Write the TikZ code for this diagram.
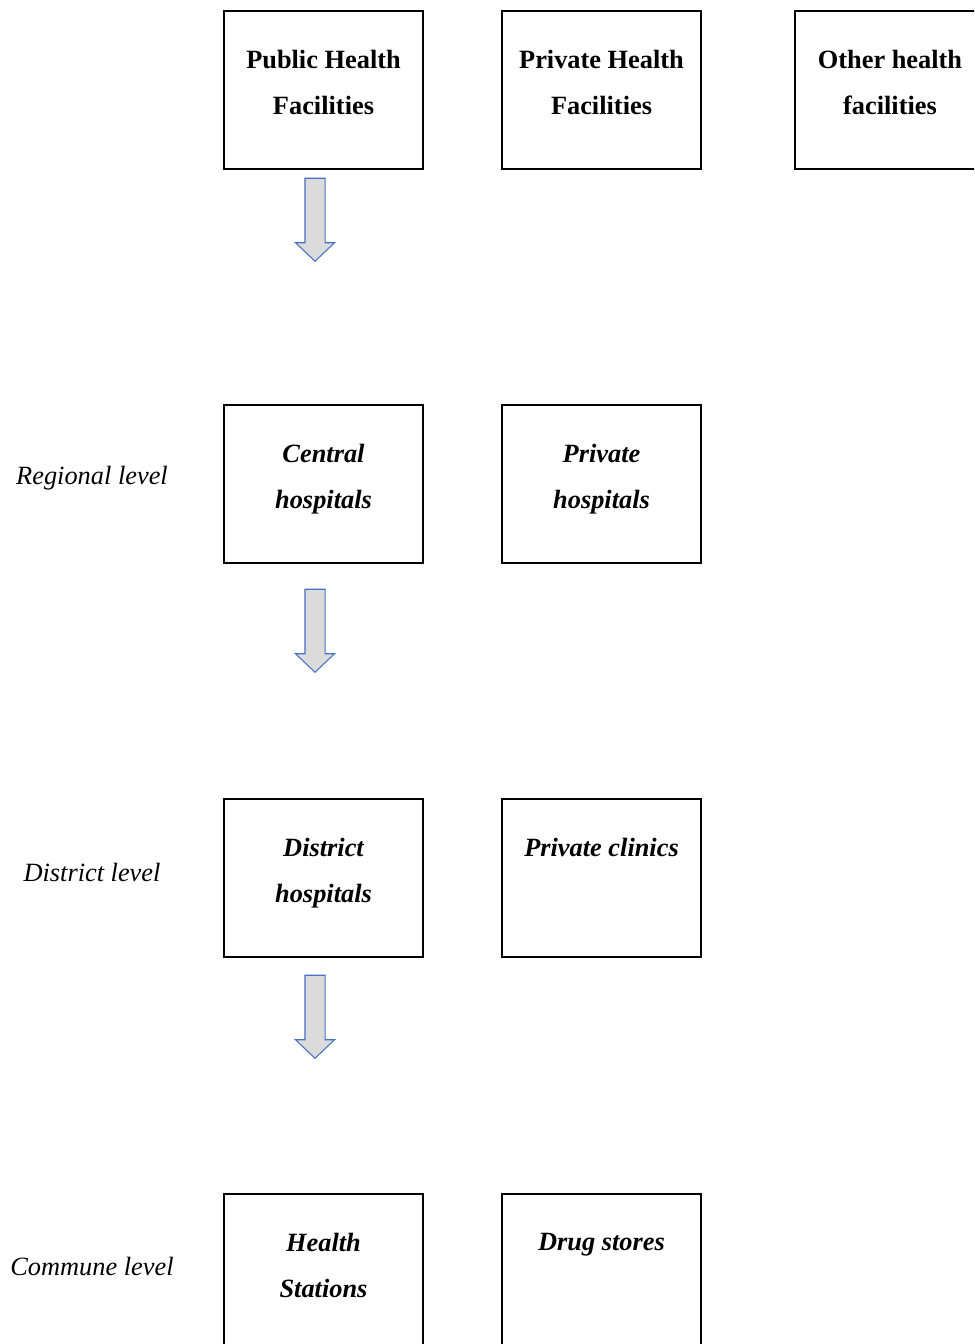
\documentclass[tikz,border=0pt]{standalone}
\usepackage{fontspec}
\setmainfont{Liberation Serif}
\usetikzlibrary{arrows.meta,positioning,shapes.arrows,calc}

\definecolor{arrowblue}{RGB}{68,114,196}

\begin{document}
\begin{tikzpicture}[
  facbox/.style={draw=black, line width=1.1pt, rectangle, minimum width=3.98cm,
    minimum height=3.16cm, inner sep=0pt},
  factxt/.style={anchor=north, align=center, inner sep=0pt,
    font=\fontsize{15}{26}\selectfont\bfseries},
  lvl/.style={font=\fontsize{15}{18}\selectfont\itshape, inner sep=0pt},
  down/.style={single arrow, rotate=-90, draw=arrowblue, fill=gray!28,
    line width=0.6pt, inner sep=0pt, text height=0.38cm, text depth=0pt,
    minimum height=1.66cm, single arrow head extend=0.19cm,
    single arrow tip angle=93, single arrow head indent=0pt},
]
\clip (0,0) rectangle (19.48,-26.88);
\useasboundingbox (0,0) rectangle (19.48,-26.88);

%--- Top row ---
\node[facbox] (pub)   at (6.47, -1.80)  {};
\node[facbox] (priv)  at (12.03, -1.80) {};
\node[facbox, minimum width=3.80cm] (other) at (17.80, -1.80) {};
\node[factxt] (pubt)   at ($(pub.north)+(0,-0.80)$)   {Public Health\\Facilities};
\node[factxt] (privt)  at ($(priv.north)+(0,-0.80)$)  {Private Health\\Facilities};
\node[factxt] (othert) at ($(other.north)+(0,-0.80)$) {Other health\\facilities};

%--- Regional level ---
\node[lvl] (reg) at (1.84, -9.56) {Regional level};
\node[facbox] (cen)  at (6.47, -9.68)  {};
\node[facbox] (phos) at (12.03, -9.68) {};
\node[factxt, font=\fontsize{15}{26}\selectfont\bfseries\itshape] (cent)
  at ($(cen.north)+(0,-0.80)$) {Central\\hospitals};
\node[factxt, font=\fontsize{15}{26}\selectfont\bfseries\itshape] (phost)
  at ($(phos.north)+(0,-0.80)$) {Private\\hospitals};

%--- District level ---
\node[lvl] (dis) at (1.84, -17.44) {District level};
\node[facbox] (dhos) at (6.47, -17.56)  {};
\node[facbox] (pcli) at (12.03, -17.56) {};
\node[factxt, font=\fontsize{15}{26}\selectfont\bfseries\itshape] (dhost)
  at ($(dhos.north)+(0,-0.80)$) {District\\hospitals};
\node[factxt, font=\fontsize{15}{26}\selectfont\bfseries\itshape] (pclit)
  at ($(pcli.north)+(0,-0.80)$) {Private clinics};

%--- Commune level ---
\node[lvl] (com) at (1.84, -25.32) {Commune level};
\node[facbox] (hst)  at (6.47, -25.46)  {};
\node[facbox] (drug) at (12.03, -25.46) {};
\node[factxt, font=\fontsize{15}{26}\selectfont\bfseries\itshape] (hstt)
  at ($(hst.north)+(0,-0.80)$) {Health\\Stations};
\node[factxt, font=\fontsize{15}{26}\selectfont\bfseries\itshape] (drugt)
  at ($(drug.north)+(0,-0.80)$) {Drug stores};

%--- Block arrows down the public column ---
\node[down] (a1) at (6.30, -4.30)  {};
\node[down] (a2) at (6.30, -12.52) {};
\node[down] (a3) at (6.30, -20.24) {};

\end{tikzpicture}
\end{document}
